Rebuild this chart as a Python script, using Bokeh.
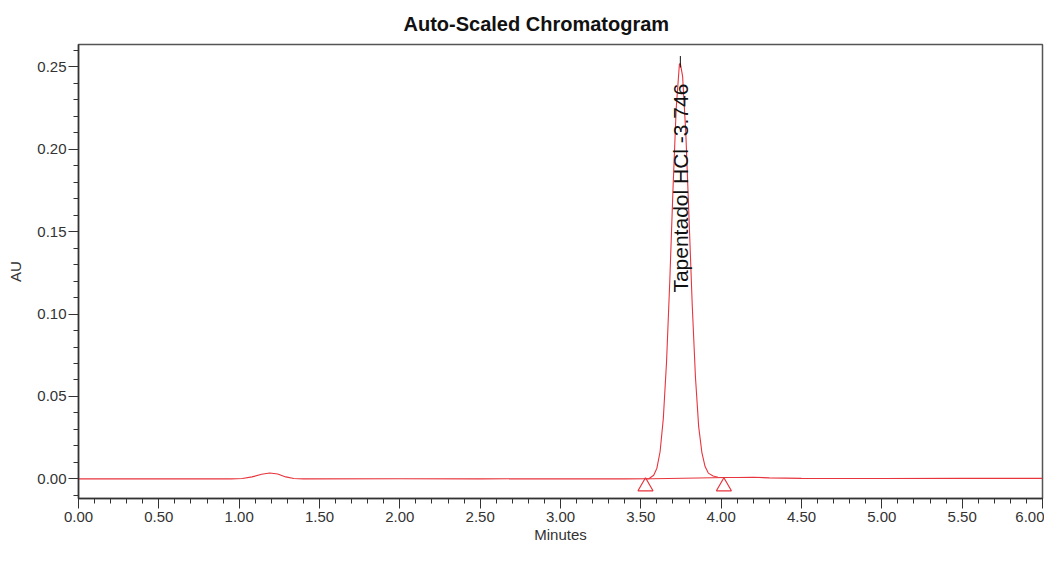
import numpy as np
from bokeh.plotting import figure
from bokeh.models import SingleIntervalTicker, NumeralTickFormatter, Range1d, Title, Label
from bokeh.embed import file_html
from bokeh.resources import INLINE

# ---- data ----
minutes = [0.00, 0.50, 0.95, 1.02, 1.08, 1.14, 1.19, 1.24, 1.29, 1.34, 1.40,
           2.00, 2.50, 3.00, 3.40, 3.55, 3.58, 3.60, 3.62, 3.64, 3.66, 3.68,
           3.70, 3.72, 3.74, 3.746, 3.76, 3.78, 3.80, 3.82, 3.84, 3.86, 3.88,
           3.90, 3.92, 3.95, 3.98, 4.02, 4.10, 4.20, 4.30, 4.50, 5.00, 5.50, 6.00]
au = [0.0000, 0.0000, 0.0000, 0.0002, 0.0012, 0.0028, 0.0036, 0.0030, 0.0012, 0.0002, 0.0000,
      0.0001, 0.0000, 0.0001, 0.0000, 0.0001, 0.0022, 0.0065, 0.0166, 0.0367, 0.0709, 0.1194,
      0.1753, 0.2245, 0.2515, 0.2520, 0.2442, 0.2096, 0.1583, 0.1053, 0.0616, 0.0317, 0.0160,
      0.0075, 0.0035, 0.0018, 0.0010, 0.0008, 0.0008, 0.0010, 0.0006, 0.0003, 0.0002, 0.0003, 0.0003]

peak_name = "Tapentadol HCl -3.746"
peak_rt = 3.746
peak_label_y = 0.1130
apex_mark = [0.2495, 0.2565]
base_start = [3.529, 0.0000]
base_end = [4.017, 0.0008]
marker_y = -0.0046

x_ticks_fmt = "0.00"
y_ticks_fmt = "0.00"

LINE = "#e8343c"
AXC = "#333333"
FONT = "Liberation Sans"

p = figure(width=1044, height=545, output_backend="svg", toolbar_location=None,
           x_range=Range1d(0, 6.0), y_range=Range1d(-0.0119, 0.2635),
           min_border_left=78, min_border_right=2, min_border_top=44, min_border_bottom=10)

p.line(minutes, au, line_color=LINE, line_width=1.1)
p.line([base_start[0], base_end[0]], [base_start[1], base_end[1]], line_color=LINE, line_width=1)
p.scatter([base_start[0], base_end[0]], [marker_y, marker_y], marker="triangle", size=15,
          fill_color=None, line_color=LINE, line_width=1.2)
p.line([peak_rt, peak_rt], apex_mark, line_color="#111111", line_width=1)

p.add_layout(Label(x=peak_rt, y=peak_label_y, text=peak_name, angle=np.pi / 2,
                   text_align="left", text_baseline="middle", text_font=FONT,
                   text_font_size="21px", text_color="#111111"))

p.add_layout(Title(text="Auto-Scaled Chromatogram", align="left", offset=325,
                   text_font=FONT, text_font_size="20px", text_font_style="bold",
                   text_color="#111111", standoff=20), "above")

p.xgrid.visible = False
p.ygrid.visible = False
p.outline_line_color = "#555555"
p.outline_line_width = 1.5

p.xaxis.ticker = SingleIntervalTicker(interval=0.5, num_minor_ticks=5)
p.yaxis.ticker = SingleIntervalTicker(interval=0.05, num_minor_ticks=5)
p.xaxis.formatter = NumeralTickFormatter(format=x_ticks_fmt)
p.yaxis.formatter = NumeralTickFormatter(format=y_ticks_fmt)
p.xaxis.axis_label = "Minutes"
p.yaxis.axis_label = "AU"

for ax in (p.xaxis, p.yaxis):
    ax.axis_line_color = AXC
    ax.axis_line_width = 1.5
    ax.major_tick_line_color = AXC
    ax.minor_tick_line_color = AXC
    ax.major_tick_out = 10
    ax.major_tick_in = 0
    ax.minor_tick_out = 5
    ax.minor_tick_in = 0
    ax.major_label_text_font = FONT
    ax.major_label_text_font_size = "15px"
    ax.major_label_text_color = AXC
    ax.axis_label_text_font = FONT
    ax.axis_label_text_font_size = "15px"
    ax.axis_label_text_font_style = "normal"
    ax.axis_label_text_color = AXC
p.xaxis.major_label_standoff = 3
p.xaxis.axis_label_standoff = 1
p.yaxis.major_label_standoff = 2
p.yaxis.axis_label_standoff = 10

open("out.html", "w").write(file_html(p, INLINE))
